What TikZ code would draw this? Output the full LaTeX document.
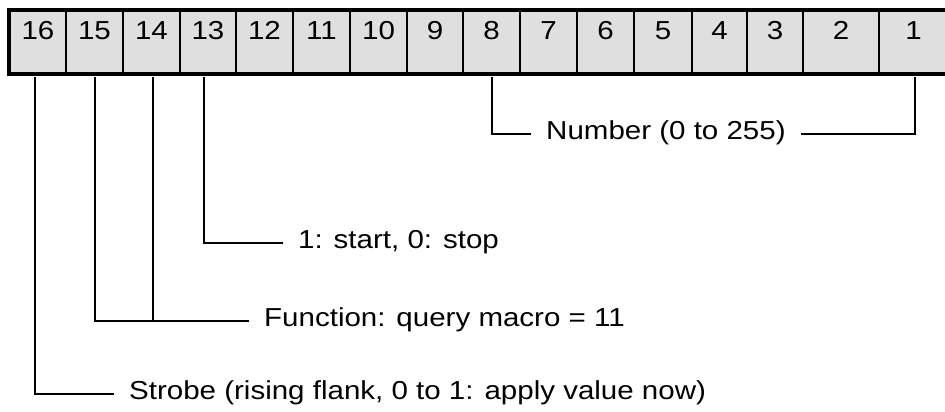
\documentclass[tikz,border=0pt]{standalone}
\usepackage{fontspec}
\setmainfont{Liberation Sans}[FakeStretch=1.135]
\begin{document}
\begin{tikzpicture}[x=1pt,y=-1pt,
  txt/.style={font=\fontsize{26}{31}\selectfont},
  cell/.style={txt,draw=black,line width=2pt,fill=gray!25,rectangle,
    inner xsep=0pt,inner ysep=0pt,minimum height=62pt,
    text height=29pt,text depth=33pt},
  lbl/.style={txt,anchor=west,inner xsep=15pt,inner ysep=0pt,
    text height=11pt+0.2em,text depth=0.2em},
  conn/.style={draw=black,line width=1.5pt}]
\useasboundingbox (0,0) rectangle (945,412);
% cells
\node[cell,minimum width=56pt] (c16) at (38,42) {16};
\node[cell,minimum width=57pt] (c15) at (94.5,42) {15};
\node[cell,minimum width=57pt] (c14) at (151.5,42) {14};
\node[cell,minimum width=56pt] (c13) at (208,42) {13};
\node[cell,minimum width=57pt] (c12) at (264.5,42) {12};
\node[cell,minimum width=57pt] (c11) at (321.5,42) {11};
\node[cell,minimum width=57pt] (c10) at (378.5,42) {10};
\node[cell,minimum width=56pt] (c9) at (435,42) {9};
\node[cell,minimum width=57pt] (c8) at (491.5,42) {8};
\node[cell,minimum width=57pt] (c7) at (548.5,42) {7};
\node[cell,minimum width=57pt] (c6) at (605.5,42) {6};
\node[cell,minimum width=58pt] (c5) at (663,42) {5};
\node[cell,minimum width=55pt] (c4) at (719.5,42) {4};
\node[cell,minimum width=56pt] (c3) at (775,42) {3};
\node[cell,minimum width=76pt] (c2) at (841,42) {2};
\node[cell,minimum width=69pt] (c1) at (913.5,42) {1};
% outer frame
\draw[line width=4pt] (c16.north west) rectangle (c1.south east);
% connector tops
\coordinate (t16) at (35,77);
\coordinate (t15) at (95,77);
\coordinate (t14) at (153,77);
\coordinate (t13) at (204,77);
\coordinate (t8) at (492,77);
\coordinate (t1) at (915,77);
% labels
\node[lbl] (num) at (531,134) {Number (0 to 255)};
\node[lbl] (start) at (283,243) {1: start, 0: stop};
\node[lbl] (func) at (249,321) {Function: query macro = 11};
\node[lbl] (strobe) at (114,394) {Strobe (rising flank, 0 to 1: apply value now)};
% connectors
\draw[conn] (t8) |- (num.west);
\draw[conn] (t1) |- (num.east);
\draw[conn] (t13) |- (start.west);
\draw[conn] (t15) |- (func.west);
\draw[conn] (t14) -- (t14 |- func.west);
\draw[conn] (t16) |- (strobe.west);
\end{tikzpicture}
\end{document}
